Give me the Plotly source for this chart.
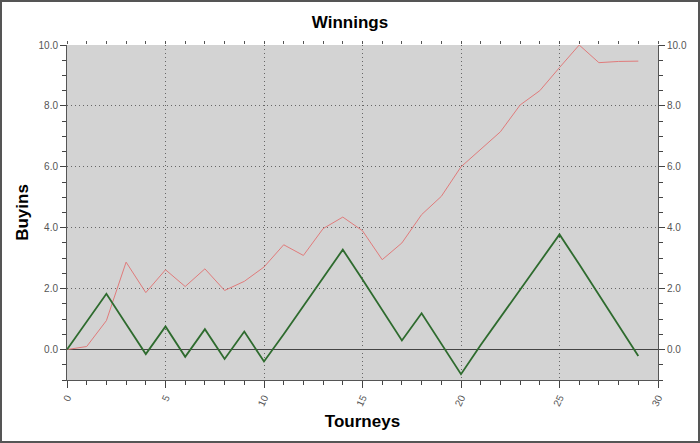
import plotly.graph_objects as go

tourneys = list(range(30))
winnings = [0.0, 0.1, 0.95, 2.87, 1.87, 2.62, 2.07, 2.65, 1.94, 2.24,
            2.71, 3.44, 3.09, 3.97, 4.35, 3.9, 2.95, 3.5, 4.43, 5.03,
            6.0, 6.57, 7.15, 8.03, 8.5, 9.26, 10.0, 9.42, 9.46, 9.47]
session = [0.0, 0.92, 1.83, 0.84, -0.15, 0.76, -0.24, 0.67, -0.31, 0.59,
           -0.39, 0.5, 1.42, 2.35, 3.28, 2.3, 1.3, 0.3, 1.19, 0.2,
           -0.81, 0.15, 1.05, 1.95, 2.87, 3.78, 2.8, 1.8, 0.8, -0.21]

x_range = [0, 30]
y_range = [-1, 10]

W, H = 700, 443
ML, MR, MT, MB = 67, 42, 45, 63

fig = go.Figure()
fig.add_trace(go.Scatter(x=tourneys, y=winnings, mode="lines",
                         line=dict(color="#e07b7b", width=1), showlegend=False))
fig.add_trace(go.Scatter(x=tourneys, y=session, mode="lines",
                         line=dict(color="#2e6b2e", width=1.8), showlegend=False))
# invisible trace to attach right axis / top axis
fig.add_trace(go.Scatter(x=tourneys, y=winnings, mode="lines", xaxis="x2", yaxis="y2",
                         line=dict(color="rgba(0,0,0,0)", width=0), hoverinfo="skip",
                         showlegend=False))

tickfont = dict(family="Liberation Sans, Arial, sans-serif", size=10, color="#555555")
titlefont = dict(family="Liberation Sans, Arial, sans-serif", size=17, color="#000000")
griddash = "1px,3px"
gridcolor = "#666666"

fig.update_layout(
    width=W, height=H,
    margin=dict(l=ML, r=MR, t=MT, b=MB, autoexpand=False),
    paper_bgcolor="white",
    plot_bgcolor="#d3d3d3",
    title=dict(text="<b>Winnings</b>", x=0.5, xanchor="center", y=1 - 22 / H, yanchor="middle",
               font=dict(family="Liberation Sans, Arial, sans-serif", size=17, color="#000")),
    xaxis=dict(range=x_range, tick0=0, dtick=5, ticks="outside", ticklen=7, tickwidth=1,
               tickcolor="#444", showline=True, linecolor="#555", linewidth=1,
               showgrid=True, gridcolor=gridcolor, griddash=griddash, gridwidth=1,
               zeroline=False, tickangle=-65, tickfont=tickfont, automargin=False,
               minor=dict(dtick=1, ticks="outside", ticklen=4, tickcolor="#444", showgrid=False),
               title=dict(text="<b>Tourneys</b>", font=titlefont, standoff=8)),
    xaxis2=dict(range=x_range, overlaying="x", side="top", showline=False, showgrid=False,
                zeroline=False, showticklabels=False, ticks="outside", ticklen=3,
                tickcolor="#555", tick0=0, dtick=1),
    yaxis=dict(range=y_range, tick0=0, dtick=2, tickformat=".1f", ticks="outside", ticklen=6,
               tickcolor="#444", showline=True, linecolor="#555", linewidth=1,
               showgrid=True, gridcolor=gridcolor, griddash=griddash, gridwidth=1,
               zeroline=True, zerolinecolor="#444", zerolinewidth=1, tickfont=tickfont,
               automargin=False,
               minor=dict(dtick=0.5, ticks="outside", ticklen=4, tickcolor="#444", showgrid=False),
               title=dict(text="<b>Buyins</b>", font=titlefont, standoff=5)),
    yaxis2=dict(range=y_range, overlaying="y", side="right", tick0=0, dtick=2, tickformat=".1f",
                ticks="outside", ticklen=6, tickcolor="#444", showline=True, linecolor="#555",
                linewidth=1, showgrid=False, zeroline=False, tickfont=tickfont, automargin=False,
                minor=dict(dtick=0.5, ticks="outside", ticklen=4, tickcolor="#444")),
)

# outer frame around the whole image (paper coordinates relative to plot area)
pw, ph = W - ML - MR, H - MT - MB
fig.add_shape(type="rect", xref="paper", yref="paper",
              x0=(1 - ML) / pw, x1=(W - 1 - ML) / pw,
              y0=(1 - MB) / ph, y1=(H - 1 - MB) / ph,
              line=dict(color="#555555", width=2), fillcolor="rgba(0,0,0,0)", layer="above")

fig.write_html("out.html", config={"displayModeBar": False},
               post_script="document.body.style.margin='0';document.body.style.overflow='hidden';")
